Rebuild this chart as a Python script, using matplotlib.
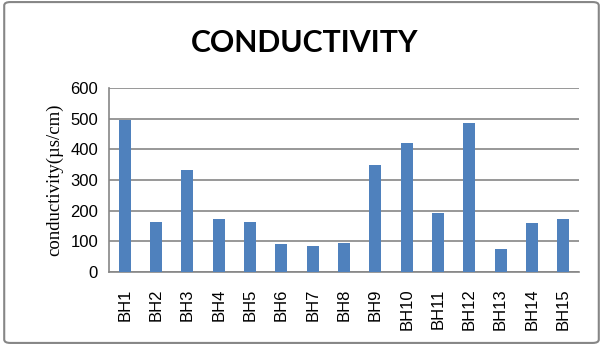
import matplotlib.pyplot as plt
from matplotlib.patches import FancyBboxPatch

wells = ['BH1', 'BH2', 'BH3', 'BH4', 'BH5', 'BH6', 'BH7', 'BH8',
         'BH9', 'BH10', 'BH11', 'BH12', 'BH13', 'BH14', 'BH15']
conductivity = [495, 163, 333, 173, 163, 92, 86, 95,
                349, 421, 192, 486, 75, 160, 173]

fig = plt.figure(figsize=(6.03, 3.45), dpi=100)
ax = fig.add_axes([0.181, 0.212, 0.779, 0.533])

ax.bar(range(len(wells)), conductivity, width=0.38, color='#4f81bd', zorder=3)
ax.set_xlim(-0.5, len(wells) - 0.5)
ax.set_ylim(0, 600)
ax.set_yticks(range(0, 601, 100))
ax.set_xticks(range(len(wells)))
ax.set_xticklabels(wells, rotation=90, fontsize=12, family='Liberation Sans')
for lab in ax.get_yticklabels():
    lab.set_fontsize(12)
    lab.set_family('Liberation Sans')
ax.tick_params(length=0, pad=8)
ax.tick_params(axis='x', pad=12)
ax.yaxis.grid(True, color='#868686', linewidth=1.2, zorder=0)
for s in ['top', 'right']:
    ax.spines[s].set_visible(False)
for s in ['left', 'bottom']:
    ax.spines[s].set_color('#868686')
    ax.spines[s].set_linewidth(1.2)

ax.set_ylabel('conductivity(µs/cm)', family='Liberation Serif', fontsize=13.5, labelpad=5)
fig.text(0.506, 0.875, 'CONDUCTIVITY', ha='center', va='center',
         fontsize=21.8, fontweight='bold', family='Lato')

border = FancyBboxPatch((0.007, 0.006), 0.986, 0.988, boxstyle='round,pad=0,rounding_size=0.01',
                        transform=fig.transFigure, fill=False, edgecolor='#868686', linewidth=1.5)
fig.patches.append(border)

fig.savefig('out.png', dpi=100)
